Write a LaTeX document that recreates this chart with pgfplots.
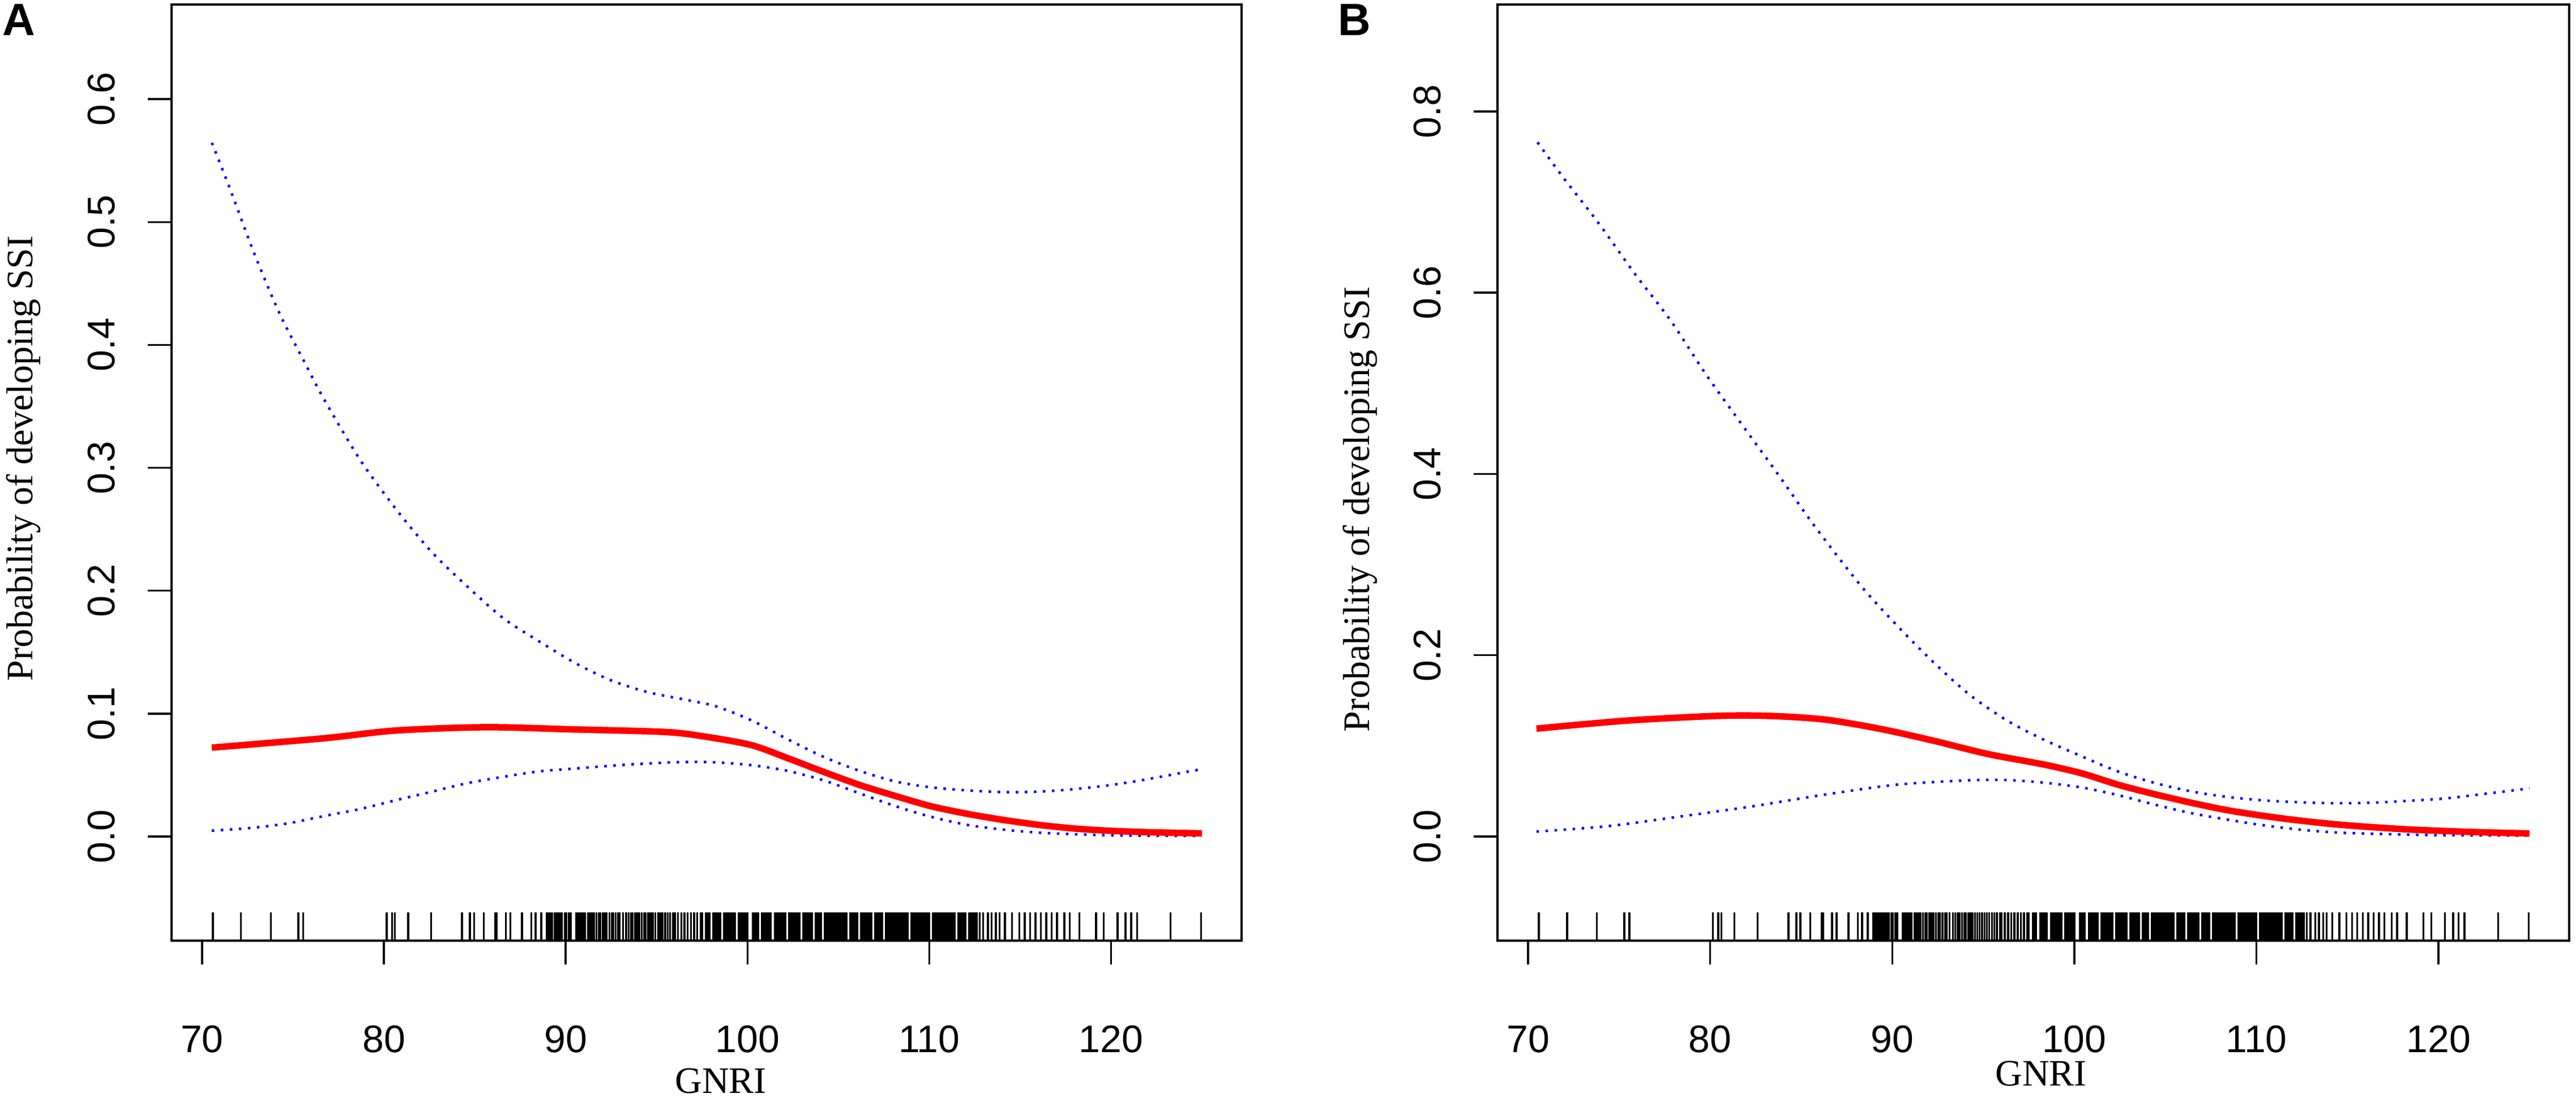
\documentclass[border=0pt]{standalone}
\usepackage{pgfplots}
\pgfplotsset{compat=1.18}
\usepackage{pgfplotstable}
\usepackage{fontspec}
\setmainfont{Liberation Sans}
\newfontfamily\serifl{Liberation Serif}

\pgfplotstableread{
x y
70.53 0.0723
76.7 0.0799
80.64 0.0862
85.6 0.0889
90.5 0.0871
95.5 0.0850
97.7 0.0812
100.23 0.0743
102.2 0.0638
104.2 0.0525
106.17 0.0419
108.15 0.0329
110.1 0.0246
112.1 0.0184
114.1 0.0134
116.05 0.0094
118.03 0.0064
120.0 0.0046
122.0 0.0035
125.0 0.0025
}\redA

\pgfplotstableread{
x y
70.54 0.5645
71.51 0.528
72.9 0.4733
74.28 0.425
75.67 0.385
76.7 0.356
78.68 0.3068
80.65 0.2667
82.63 0.2315
84.6 0.2033
86.59 0.1774
88.56 0.1586
90.54 0.141
92.52 0.1269
94.5 0.1175
96.47 0.1116
98.25 0.106
100.23 0.0944
102.2 0.0792
104.2 0.0647
106.17 0.0534
108.15 0.0447
110.1 0.0400
112.1 0.0375
114.1 0.0361
116.05 0.0365
118.03 0.0386
120.0 0.0419
122.0 0.0466
124.46 0.0534
125.0 0.0545
}\upA

\pgfplotstableread{
x y
70.53 0.0047
72.73 0.0070
74.7 0.0106
76.7 0.0166
78.68 0.0223
80.65 0.0295
82.63 0.0364
84.6 0.0434
86.59 0.0486
88.56 0.0530
90.54 0.0553
92.52 0.0576
94.5 0.0594
96.47 0.0606
98.25 0.0603
100.23 0.0580
102.2 0.0534
104.2 0.0456
106.17 0.0351
108.15 0.0246
110.1 0.0160
112.1 0.0094
114.1 0.0055
116.05 0.0031
118.03 0.0018
120.0 0.0009
122.0 0.0006
125.0 0.0005
}\loA

\pgfplotstableread{
x y
70.46 0.119
75.4 0.1278
80.36 0.133
83.3 0.133
86.3 0.129
89.27 0.119
92.24 0.1058
95.2 0.0912
98.3 0.0795
100.42 0.0696
102.4 0.0571
104.4 0.0467
106.4 0.0373
108.4 0.029
110.4 0.0227
112.4 0.0175
114.4 0.0133
116.4 0.0102
118.4 0.0077
120.4 0.006
122.4 0.0046
125.0 0.0033
}\redB

\pgfplotstableread{
x y
70.52 0.766
71.9 0.728
73.88 0.6766
75.86 0.621
77.84 0.569
79.8 0.509
81.8 0.453
83.8 0.3976
85.76 0.3418
88.29 0.2764
90.27 0.2326
92.24 0.1927
94.22 0.1569
96.3 0.128
98.3 0.107
100.42 0.0883
102.4 0.0717
104.4 0.0592
106.4 0.0498
108.4 0.0436
110.4 0.0398
112.4 0.0377
114.4 0.0367
116.4 0.0373
118.4 0.0394
120.4 0.042
122.4 0.0467
125.0 0.053
}\upB

\pgfplotstableread{
x y
70.46 0.0054
74.4 0.0114
78.38 0.0221
82.33 0.0333
86.3 0.0462
90.27 0.0572
94.22 0.0620
96.3 0.0623
98.4 0.0592
100.42 0.0540
102.4 0.0456
104.4 0.0352
106.4 0.0258
108.4 0.0186
110.4 0.0123
112.4 0.0075
114.4 0.0044
116.4 0.0030
118.4 0.0020
120.4 0.0013
125.0 0.0010
}\loB

\pgfplotstableread{
x ya yb
70.59 -0.0733 -0.0994
72.14 -0.0733 -0.0994
73.78 -0.0733 -0.0994
75.29 -0.0733 -0.0994
75.56 -0.0733 -0.0994
80.15 -0.0733 -0.0994
80.45 -0.0733 -0.0994
80.61 -0.0733 -0.0994
81.34 -0.0733 -0.0994
82.60 -0.0733 -0.0994
84.30 -0.0733 -0.0994
84.73 -0.0733 -0.0994
84.96 -0.0733 -0.0994
85.49 -0.0733 -0.0994
86.12 -0.0733 -0.0994
86.20 -0.0733 -0.0994
86.70 -0.0733 -0.0994
86.95 -0.0733 -0.0994
87.60 -0.0733 -0.0994
88.11 -0.0733 -0.0994
88.34 -0.0733 -0.0994
88.66 -0.0733 -0.0994
88.97 -0.0733 -0.0994
89.06 -0.0733 -0.0994
89.16 -0.0733 -0.0994
89.27 -0.0733 -0.0994
89.38 -0.0733 -0.0994
89.47 -0.0733 -0.0994
89.59 -0.0733 -0.0994
89.70 -0.0733 -0.0994
89.80 -0.0733 -0.0994
89.95 -0.0733 -0.0994
90.04 -0.0733 -0.0994
90.16 -0.0733 -0.0994
90.27 -0.0733 -0.0994
90.57 -0.0733 -0.0994
90.66 -0.0733 -0.0994
90.75 -0.0733 -0.0994
90.84 -0.0733 -0.0994
90.96 -0.0733 -0.0994
91.05 -0.0733 -0.0994
91.23 -0.0733 -0.0994
91.34 -0.0733 -0.0994
91.44 -0.0733 -0.0994
91.55 -0.0733 -0.0994
91.69 -0.0733 -0.0994
91.82 -0.0733 -0.0994
91.91 -0.0733 -0.0994
92.03 -0.0733 -0.0994
92.14 -0.0733 -0.0994
92.26 -0.0733 -0.0994
92.40 -0.0733 -0.0994
92.53 -0.0733 -0.0994
92.62 -0.0733 -0.0994
92.76 -0.0733 -0.0994
92.89 -0.0733 -0.0994
92.97 -0.0733 -0.0994
93.15 -0.0733 -0.0994
93.33 -0.0733 -0.0994
93.46 -0.0733 -0.0994
93.60 -0.0733 -0.0994
93.69 -0.0733 -0.0994
93.83 -0.0733 -0.0994
93.95 -0.0733 -0.0994
94.04 -0.0733 -0.0994
94.19 -0.0733 -0.0994
94.31 -0.0733 -0.0994
94.40 -0.0733 -0.0994
94.54 -0.0733 -0.0994
94.67 -0.0733 -0.0994
94.79 -0.0733 -0.0994
94.93 -0.0733 -0.0994
95.08 -0.0733 -0.0994
95.20 -0.0733 -0.0994
95.32 -0.0733 -0.0994
95.47 -0.0733 -0.0994
95.61 -0.0733 -0.0994
95.74 -0.0733 -0.0994
95.91 -0.0733 -0.0994
96.00 -0.0733 -0.0994
96.18 -0.0733 -0.0994
96.36 -0.0733 -0.0994
96.54 -0.0733 -0.0994
96.71 -0.0733 -0.0994
96.89 -0.0733 -0.0994
97.07 -0.0733 -0.0994
97.24 -0.0733 -0.0994
97.42 -0.0733 -0.0994
97.50 -0.0733 -0.0994
97.71 -0.0733 -0.0994
97.80 -0.0733 -0.0994
97.90 -0.0733 -0.0994
98.12 -0.0733 -0.0994
98.21 -0.0733 -0.0994
98.30 -0.0733 -0.0994
98.40 -0.0733 -0.0994
98.50 -0.0733 -0.0994
98.71 -0.0733 -0.0994
98.80 -0.0733 -0.0994
98.90 -0.0733 -0.0994
99.00 -0.0733 -0.0994
99.10 -0.0733 -0.0994
99.20 -0.0733 -0.0994
99.30 -0.0733 -0.0994
99.51 -0.0733 -0.0994
99.60 -0.0733 -0.0994
99.70 -0.0733 -0.0994
99.80 -0.0733 -0.0994
99.90 -0.0733 -0.0994
100.00 -0.0733 -0.0994
100.30 -0.0733 -0.0994
100.40 -0.0733 -0.0994
100.50 -0.0733 -0.0994
100.58 -0.0733 -0.0994
100.80 -0.0733 -0.0994
100.90 -0.0733 -0.0994
101.00 -0.0733 -0.0994
101.10 -0.0733 -0.0994
101.20 -0.0733 -0.0994
101.29 -0.0733 -0.0994
101.50 -0.0733 -0.0994
101.60 -0.0733 -0.0994
101.70 -0.0733 -0.0994
101.80 -0.0733 -0.0994
101.90 -0.0733 -0.0994
102.00 -0.0733 -0.0994
102.08 -0.0733 -0.0994
102.28 -0.0733 -0.0994
102.38 -0.0733 -0.0994
102.48 -0.0733 -0.0994
102.58 -0.0733 -0.0994
102.68 -0.0733 -0.0994
102.78 -0.0733 -0.0994
102.87 -0.0733 -0.0994
103.07 -0.0733 -0.0994
103.17 -0.0733 -0.0994
103.27 -0.0733 -0.0994
103.37 -0.0733 -0.0994
103.47 -0.0733 -0.0994
103.56 -0.0733 -0.0994
103.76 -0.0733 -0.0994
103.86 -0.0733 -0.0994
103.96 -0.0733 -0.0994
104.06 -0.0733 -0.0994
104.26 -0.0733 -0.0994
104.36 -0.0733 -0.0994
104.46 -0.0733 -0.0994
104.56 -0.0733 -0.0994
104.66 -0.0733 -0.0994
104.76 -0.0733 -0.0994
104.86 -0.0733 -0.0994
104.96 -0.0733 -0.0994
105.06 -0.0733 -0.0994
105.16 -0.0733 -0.0994
105.26 -0.0733 -0.0994
105.36 -0.0733 -0.0994
105.44 -0.0733 -0.0994
105.64 -0.0733 -0.0994
105.74 -0.0733 -0.0994
105.84 -0.0733 -0.0994
105.94 -0.0733 -0.0994
106.04 -0.0733 -0.0994
106.24 -0.0733 -0.0994
106.34 -0.0733 -0.0994
106.44 -0.0733 -0.0994
106.54 -0.0733 -0.0994
106.64 -0.0733 -0.0994
106.74 -0.0733 -0.0994
106.83 -0.0733 -0.0994
107.03 -0.0733 -0.0994
107.13 -0.0733 -0.0994
107.23 -0.0733 -0.0994
107.33 -0.0733 -0.0994
107.42 -0.0733 -0.0994
107.62 -0.0733 -0.0994
107.72 -0.0733 -0.0994
107.82 -0.0733 -0.0994
107.92 -0.0733 -0.0994
108.02 -0.0733 -0.0994
108.12 -0.0733 -0.0994
108.22 -0.0733 -0.0994
108.32 -0.0733 -0.0994
108.42 -0.0733 -0.0994
108.52 -0.0733 -0.0994
108.62 -0.0733 -0.0994
108.72 -0.0733 -0.0994
108.81 -0.0733 -0.0994
109.01 -0.0733 -0.0994
109.11 -0.0733 -0.0994
109.21 -0.0733 -0.0994
109.31 -0.0733 -0.0994
109.41 -0.0733 -0.0994
109.51 -0.0733 -0.0994
109.61 -0.0733 -0.0994
109.71 -0.0733 -0.0994
109.81 -0.0733 -0.0994
109.91 -0.0733 -0.0994
110.00 -0.0733 -0.0994
110.20 -0.0733 -0.0994
110.30 -0.0733 -0.0994
110.40 -0.0733 -0.0994
110.50 -0.0733 -0.0994
110.60 -0.0733 -0.0994
110.70 -0.0733 -0.0994
110.80 -0.0733 -0.0994
110.90 -0.0733 -0.0994
111.00 -0.0733 -0.0994
111.10 -0.0733 -0.0994
111.20 -0.0733 -0.0994
111.30 -0.0733 -0.0994
111.39 -0.0733 -0.0994
111.59 -0.0733 -0.0994
111.69 -0.0733 -0.0994
111.79 -0.0733 -0.0994
111.89 -0.0733 -0.0994
111.98 -0.0733 -0.0994
112.18 -0.0733 -0.0994
112.28 -0.0733 -0.0994
112.38 -0.0733 -0.0994
112.48 -0.0733 -0.0994
112.60 -0.0733 -0.0994
112.77 -0.0733 -0.0994
112.97 -0.0733 -0.0994
113.23 -0.0733 -0.0994
113.43 -0.0733 -0.0994
113.66 -0.0733 -0.0994
113.86 -0.0733 -0.0994
114.16 -0.0733 -0.0994
114.55 -0.0733 -0.0994
114.95 -0.0733 -0.0994
115.25 -0.0733 -0.0994
115.54 -0.0733 -0.0994
115.84 -0.0733 -0.0994
116.14 -0.0733 -0.0994
116.44 -0.0733 -0.0994
116.73 -0.0733 -0.0994
117.03 -0.0733 -0.0994
117.43 -0.0733 -0.0994
117.72 -0.0733 -0.0994
118.26 -0.0733 -0.0994
119.17 -0.0733 -0.0994
119.60 -0.0733 -0.0994
120.36 -0.0733 -0.0994
120.80 -0.0733 -0.0994
121.10 -0.0733 -0.0994
121.43 -0.0733 -0.0994
123.27 -0.0733 -0.0994
124.95 -0.0733 -0.0994
}\rug

\pgfplotsset{
  panel/.style={
    scale only axis, anchor=south west,
    height=165.4pt,
    xmin=68.32, xmax=127.18,
    xtick={70,80,90,100,110,120},
    axis line style={line width=0.35pt},
    every tick/.style={line width=0.35pt, black},
    tick align=outside, major tick length=4.2pt,
    tick pos=left,
    scaled y ticks=false,
    ticklabel style={font=\fontsize{6.8}{8}\selectfont},
    /pgf/number format/assume math mode=true,
    yticklabel shift=5.6pt,
    xticklabel shift=10.6pt,
    yticklabel style={rotate=90, anchor=south, inner sep=0pt,
      /pgf/number format/.cd, fixed, fixed zerofill, precision=1},
    xticklabel style={anchor=north, inner sep=0pt},
  },
  rugst/.style={only marks, mark=|, mark size=2.5pt, mark options={line width=0.34pt, black}},
  fitst/.style={red, line width=1.15pt, smooth, no marks},
  cist/.style={blue, line width=0.45pt, dash pattern=on 0.45pt off 1.15pt, smooth, no marks},
}

\begin{document}
\begin{tikzpicture}[x=1pt,y=1pt]
\useasboundingbox (0,0) rectangle (455,193.9);
\begin{axis}[panel, at={(30.3pt,27.7pt)}, width=189.0pt,
  ymin=-0.0848, ymax=0.677, ytick={0,0.1,0.2,0.3,0.4,0.5,0.6}]
\addplot[rugst] table[x=x, y=ya] {\rug};
\addplot[cist] table {\upA};
\addplot[cist] table {\loA};
\addplot[fitst] table {\redA};
\end{axis}
\begin{axis}[panel, at={(264.5pt,27.7pt)}, width=189.3pt,
  ymin=-0.115, ymax=0.918, ytick={0,0.2,0.4,0.6,0.8}]
\addplot[rugst] table[x=x, y=yb] {\rug};
\addplot[cist] table {\upB};
\addplot[cist] table {\loB};
\addplot[fitst] table {\redB};
\end{axis}
\node[anchor=base west, inner sep=0pt, font=\fontsize{8}{9.6}\selectfont\bfseries] at (0.2,187.7) {A};
\node[anchor=base west, inner sep=0pt, font=\fontsize{8}{9.6}\selectfont\bfseries] at (236.1,187.7) {B};
\node[rotate=90, anchor=base, inner sep=0pt, font=\serifl\fontsize{6.6}{8}\selectfont] at (5.7,112.9) {Probability of developing SSI};
\node[rotate=90, anchor=base, inner sep=0pt, font=\serifl\fontsize{6.6}{8}\selectfont] at (241.8,103.9) {Probability of developing SSI};
\node[anchor=base, inner sep=0pt, font=\serifl\fontsize{6.6}{8}\selectfont] at (127.3,0.8) {GNRI};
\node[anchor=base, inner sep=0pt, font=\serifl\fontsize{6.6}{8}\selectfont] at (360.5,2.1) {GNRI};
\end{tikzpicture}
\end{document}
